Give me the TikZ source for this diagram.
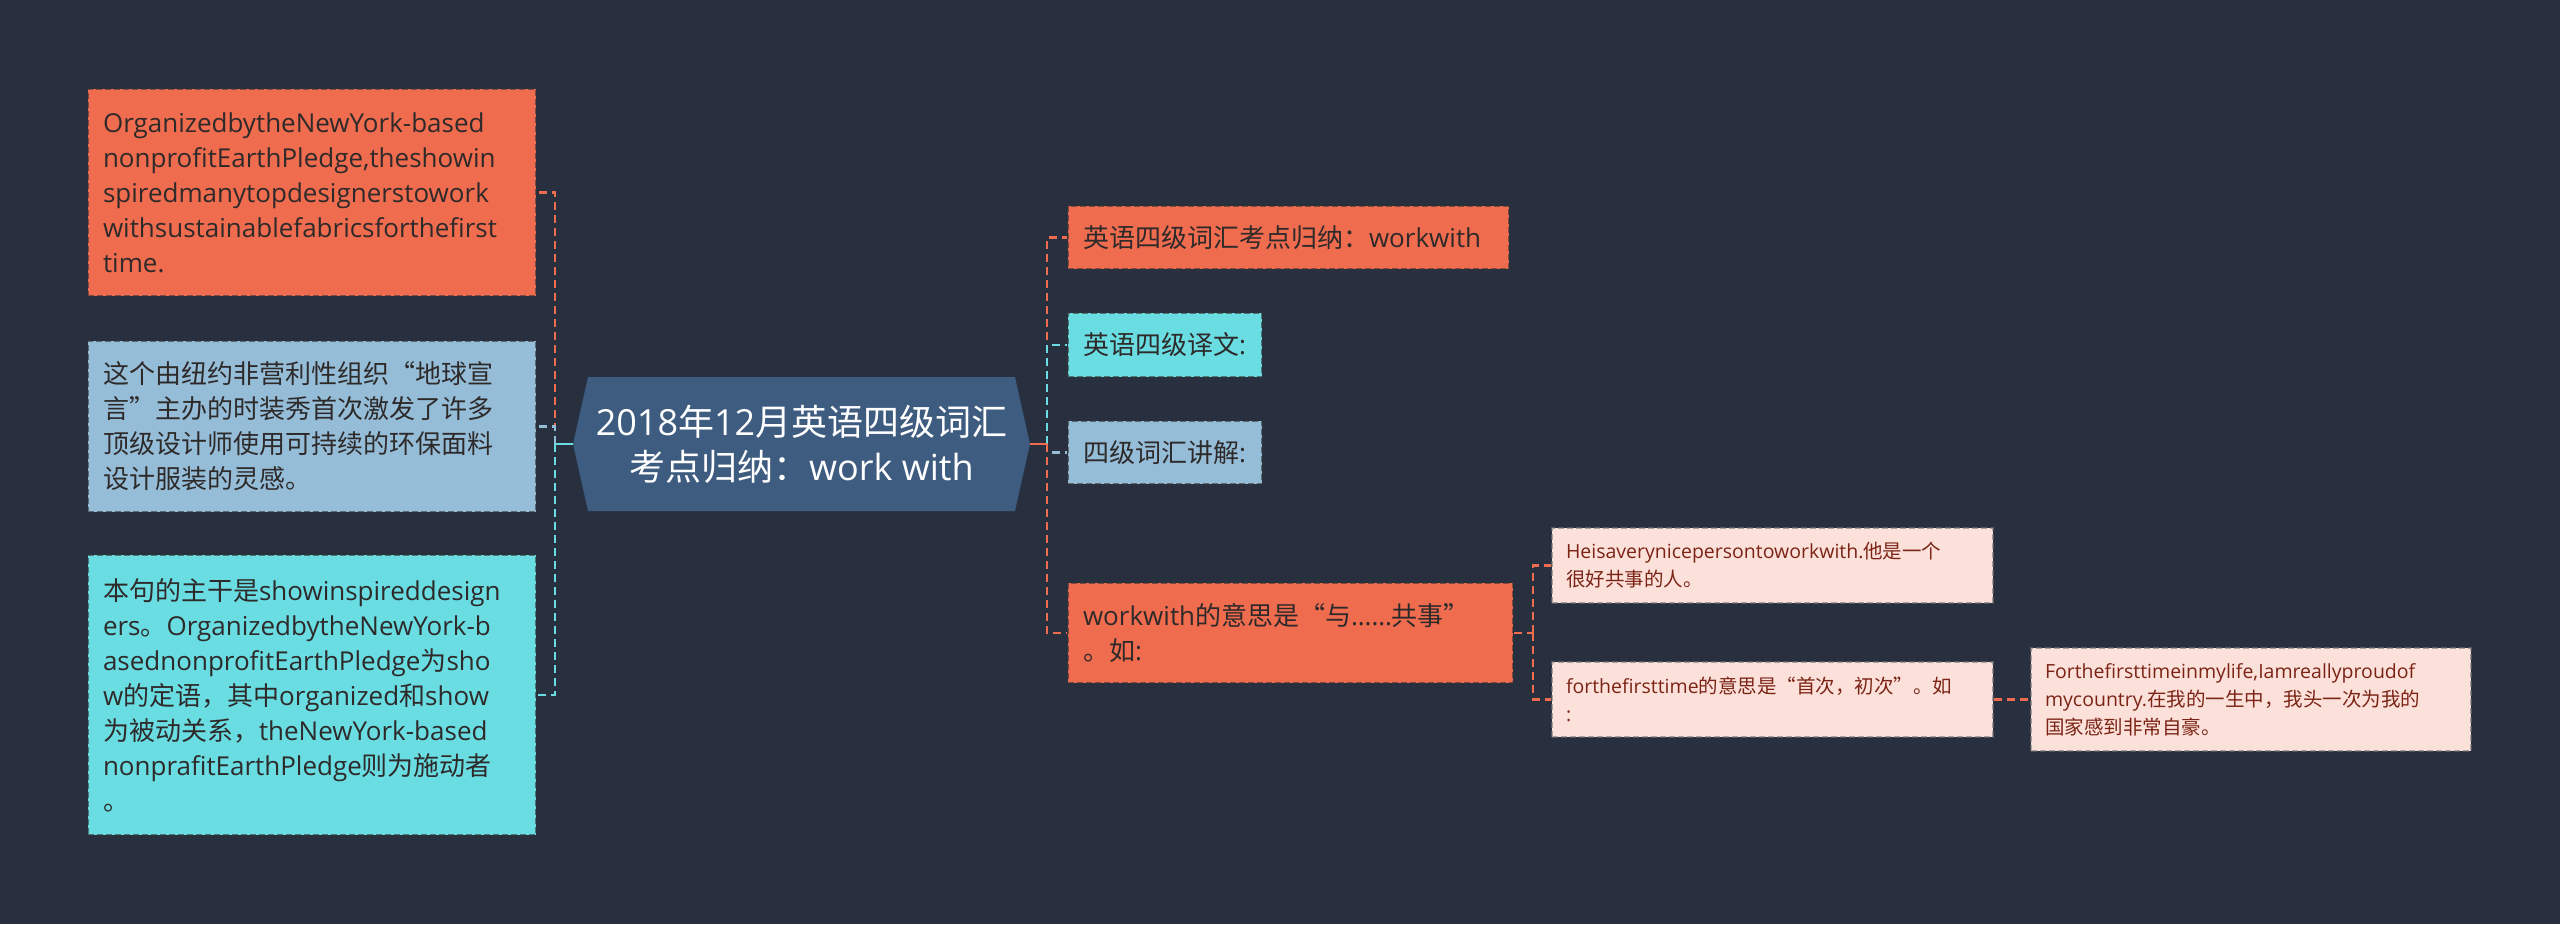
\documentclass[tikz,border=0pt]{standalone}
\usepackage{fontspec}
\setmainfont{Open Sans}
\newfontfamily\cjk{Noto Sans CJK SC}
\newfontfamily\lat{Open Sans}
\XeTeXinterchartokenstate=1
\newXeTeXintercharclass\CJKcls
\makeatletter
\def\setcjkrange#1#2{\count@=#1\relax
  \loop\XeTeXcharclass\count@=\CJKcls\relax
  \ifnum\count@<#2\relax\advance\count@ by 1\relax\repeat}
\makeatother
\setcjkrange{"3000}{"303F}
\setcjkrange{"4E00}{"9FFF}
\setcjkrange{"FF00}{"FFEF}
\XeTeXcharclass"201C=\CJKcls
\XeTeXcharclass"201D=\CJKcls
\XeTeXinterchartoks 0 \CJKcls = {\cjk}
\XeTeXinterchartoks 4095 \CJKcls = {\cjk}
\XeTeXinterchartoks \CJKcls 0 = {\lat}
\XeTeXinterchartoks \CJKcls 4095 = {\lat}

\definecolor{bg}{HTML}{283040}
\definecolor{redc}{HTML}{F06C4F}
\definecolor{lblue}{HTML}{95BDD8}
\definecolor{cyanc}{HTML}{6ADDE3}
\definecolor{rootc}{HTML}{3E5B80}
\definecolor{pinkc}{HTML}{FCE1DA}
\definecolor{pinktext}{HTML}{7B2416}
\definecolor{darktext}{HTML}{2E2A2A}

\tikzset{
  box/.style={draw=black!80, draw opacity=0.6, line width=2pt,
    dash pattern=on 6pt off 3pt, rectangle, inner xsep=15pt, inner ysep=0pt,
    align=left, text=darktext, anchor=center},
  bigfont/.style={font=\fontsize{26}{35}\selectfont},
  smallfont/.style={font=\fontsize{19.5}{28}\selectfont},
  redbox/.style={box, fill=redc},
  lbluebox/.style={box, fill=lblue},
  cyanbox/.style={box, fill=cyanc},
  pinkbox/.style={box, fill=pinkc, text=pinktext, draw=black!55},
  con/.style={line width=2.6pt, dash pattern=on 8pt off 5pt},
  redcon/.style={con, draw=redc},
  lbluecon/.style={con, draw=lblue},
  cyancon/.style={con, draw=cyanc},
}

\begin{document}
\begin{tikzpicture}[x=1pt, y=-1pt]
\fill[bg] (0,0) rectangle (2560,924);
\useasboundingbox (0,0) rectangle (2560,924);

% root
\node[minimum width=457pt, minimum height=134pt, inner sep=0pt, align=center,
  text=white, font=\fontsize{36}{45}\selectfont,
  path picture={\fill[rootc] (path picture bounding box.west)
    -- ([xshift=15pt]path picture bounding box.north west)
    -- ([xshift=-15pt]path picture bounding box.north east)
    -- (path picture bounding box.east)
    -- ([xshift=-15pt]path picture bounding box.south east)
    -- ([xshift=15pt]path picture bounding box.south west) -- cycle;}]
  (root) at (801.5,444) {2018年12月英语四级词汇\\考点归纳：work with};

% left nodes
\node[redbox, bigfont, text width=418pt, minimum height=207pt] (b1) at (312,192.5)
  {OrganizedbytheNewYork-based\\nonprofitEarthPledge,theshowin\\spiredmanytopdesignerstowork\\withsustainablefabricsforthefirst\\time.};
\node[lbluebox, bigfont, text width=418pt, minimum height=171pt] (b2) at (312,426.5)
  {这个由纽约非营利性组织“地球宣\\言”主办的时装秀首次激发了许多\\顶级设计师使用可持续的环保面料\\设计服装的灵感。};
\node[cyanbox, bigfont, text width=418pt, minimum height=280pt] (b3) at (312,695)
  {本句的主干是showinspireddesign\\ers。OrganizedbytheNewYork-b\\asednonprofitEarthPledge为sho\\w的定语，其中organized和show\\为被动关系，theNewYork-based\\nonprafitEarthPledge则为施动者\\。};

% right nodes
\node[redbox, bigfont, text width=411pt, minimum height=63pt] (r1) at (1288.5,237.5)
  {英语四级词汇考点归纳：workwith};
\node[cyanbox, bigfont, text width=164pt, minimum height=64pt] (r2) at (1165,345)
  {英语四级译文:};
\node[lbluebox, bigfont, text width=164pt, minimum height=63pt] (r3) at (1165,452.5)
  {四级词汇讲解:};
\node[redbox, bigfont, text width=415pt, minimum height=100pt] (r4) at (1290.5,633)
  {workwith的意思是“与……共事”\\。如:};

\node[pinkbox, smallfont, text width=413pt, minimum height=75pt, inner xsep=14pt] (s1) at (1772.5,565.5)
  {Heisaverynicepersontoworkwith.他是一个\\很好共事的人。};
\node[pinkbox, smallfont, text width=413pt, minimum height=75pt, inner xsep=14pt] (s2) at (1772.5,699.5)
  {forthefirsttime的意思是“首次，初次”。如\\:};
\node[pinkbox, smallfont, text width=412pt, minimum height=103pt, inner xsep=14pt] (s3) at (2251,699.5)
  {Forthefirsttimeinmylife,Iamreallyproudof\\mycountry.在我的一生中，我头一次为我的\\国家感到非常自豪。};

% connectors
\coordinate (tl) at (555,444);
\coordinate (tr) at (1047,444);
\coordinate (ts) at (1533,633);

\draw[redcon] (tl) |- (b1.east);
\draw[lbluecon] (tl) |- (b2.east);
\draw[cyancon] (tl) |- (b3.east);
\draw[cyanc, line width=2.6pt] (root.west) -- (tl);

\draw[redcon] (tr) |- (r1.west);
\draw[cyancon] (tr) |- (r2.west);
\draw[lbluecon] (tr) |- (r3.west);
\draw[redcon] (tr) |- (r4.west);
\draw[redc, line width=2.6pt] (root.east) -- (tr);

\draw[redcon] (r4.east) -- (ts);
\draw[redcon] (ts) |- (s1.west);
\draw[redcon] (ts) |- (s2.west);
\draw[redcon] (s2.east) -- (s3.west);
\end{tikzpicture}
\end{document}
